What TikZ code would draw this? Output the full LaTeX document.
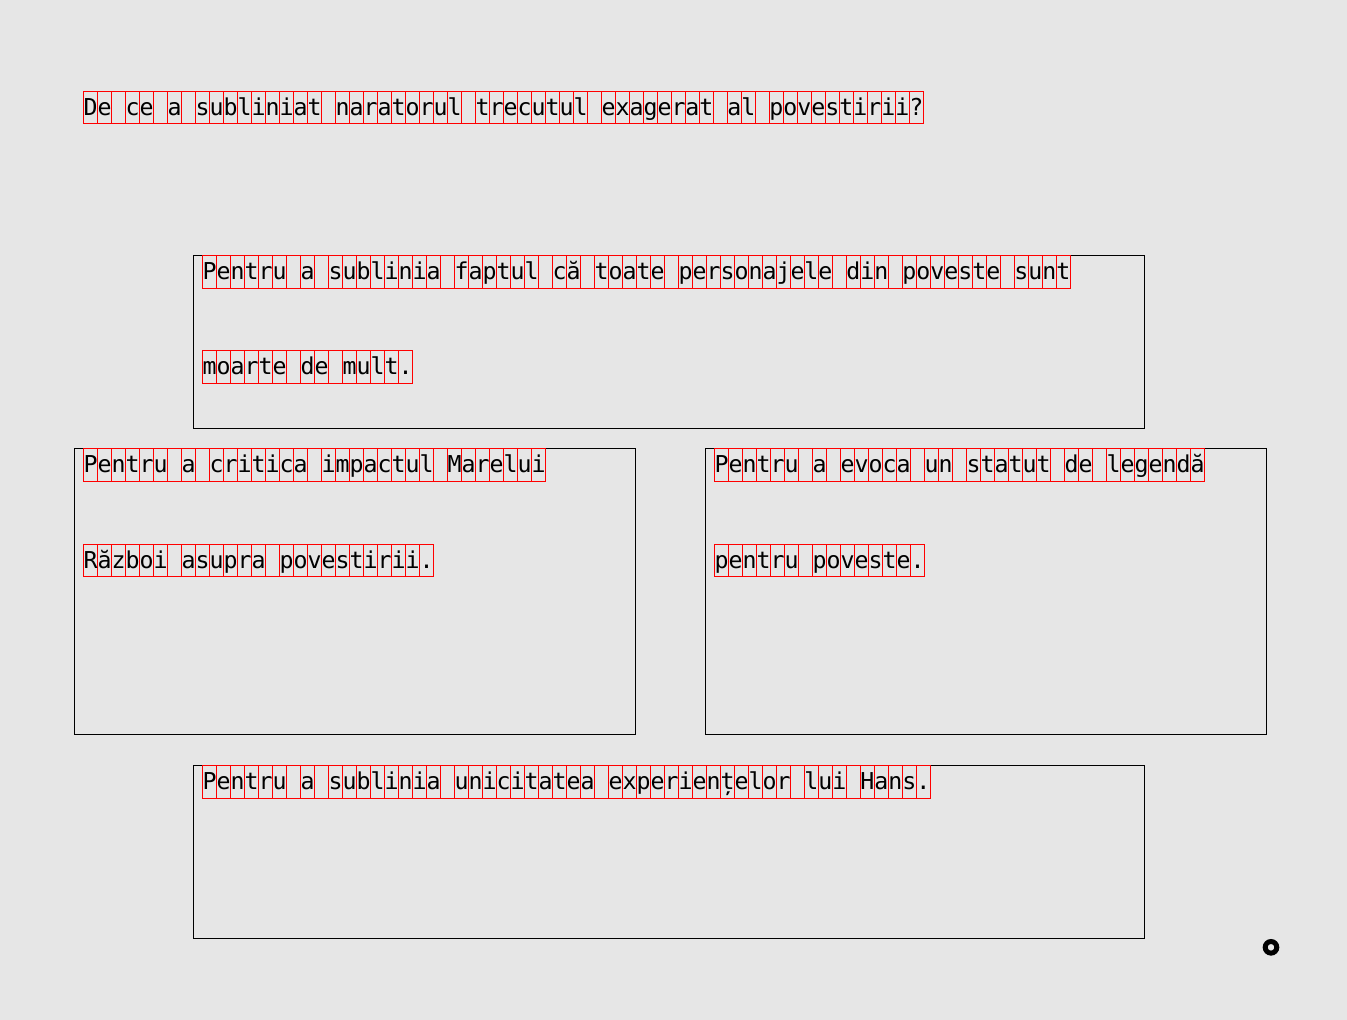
\documentclass[tikz,border=0pt]{standalone}
\usepackage{fontspec}
\setmonofont{DejaVu Sans Mono}
\usepackage{tikz}
\usetikzlibrary{positioning}
\definecolor{sheet}{HTML}{E6E6E6}
\definecolor{cellred}{HTML}{FF0000}

% one line of text with a red cell round every character
\newcommand{\cellrow}[5]{%
  \foreach \i in {1,...,#4}
    \draw[cell] ({#2+14*(\i-1)},#3) rectangle ++(14,32.5);
  \node[main text] (#1) at (#2,#3+24) {#5};
}

\begin{document}
\begin{tikzpicture}[x=0.75pt,y=-0.75pt,
  cell/.style={draw=cellred,line width=0.75pt},
  main text/.style={anchor=base west,inner sep=0pt,
    font=\fontsize{17.44pt}{20pt}\selectfont\ttfamily},
  answer box/.style={rectangle,draw=black,line width=0.9pt,inner sep=0pt},
  wide box/.style={answer box,minimum width=713.25pt,minimum height=129.75pt},
  half box/.style={answer box,minimum width=420.75pt,minimum height=214.35pt}]

  \fill[sheet] (0,0) rectangle (1347,1020);
  \useasboundingbox (0,0) rectangle (1347,1020);

  \node[wide box] (ans1) at (668.8,341.8) {};
  \node[half box] (ans2) at (354.8,591.4) {};
  \node[half box] (ans3) at (986,591.4) {};
  \node[wide box] (ans4) at (668.8,851.8) {};

  \cellrow{question}{83.3}{91.3}{60}{De ce a subliniat naratorul trecutul exagerat al povestirii?}

  \cellrow{a1}{202.3}{256}{62}{Pentru a sublinia faptul că toate personajele din poveste sunt}
  \cellrow{a1b}{202.3}{350.5}{15}{moarte de mult.}

  \cellrow{a2}{83.3}{448.8}{33}{Pentru a critica impactul Marelui}
  \cellrow{a2b}{83.3}{544.3}{25}{Război asupra povestirii.}

  \cellrow{a3}{714.3}{448.8}{35}{Pentru a evoca un statut de legendă}
  \cellrow{a3b}{714.3}{544.3}{15}{pentru poveste.}

  \cellrow{a4}{202.3}{765.8}{52}{Pentru a sublinia unicitatea experiențelor lui Hans.}

  \node[circle,draw=black,line width=3.75pt,minimum size=8.7pt,inner sep=0pt] (mark) at (1271,947.3) {};
\end{tikzpicture}
\end{document}
